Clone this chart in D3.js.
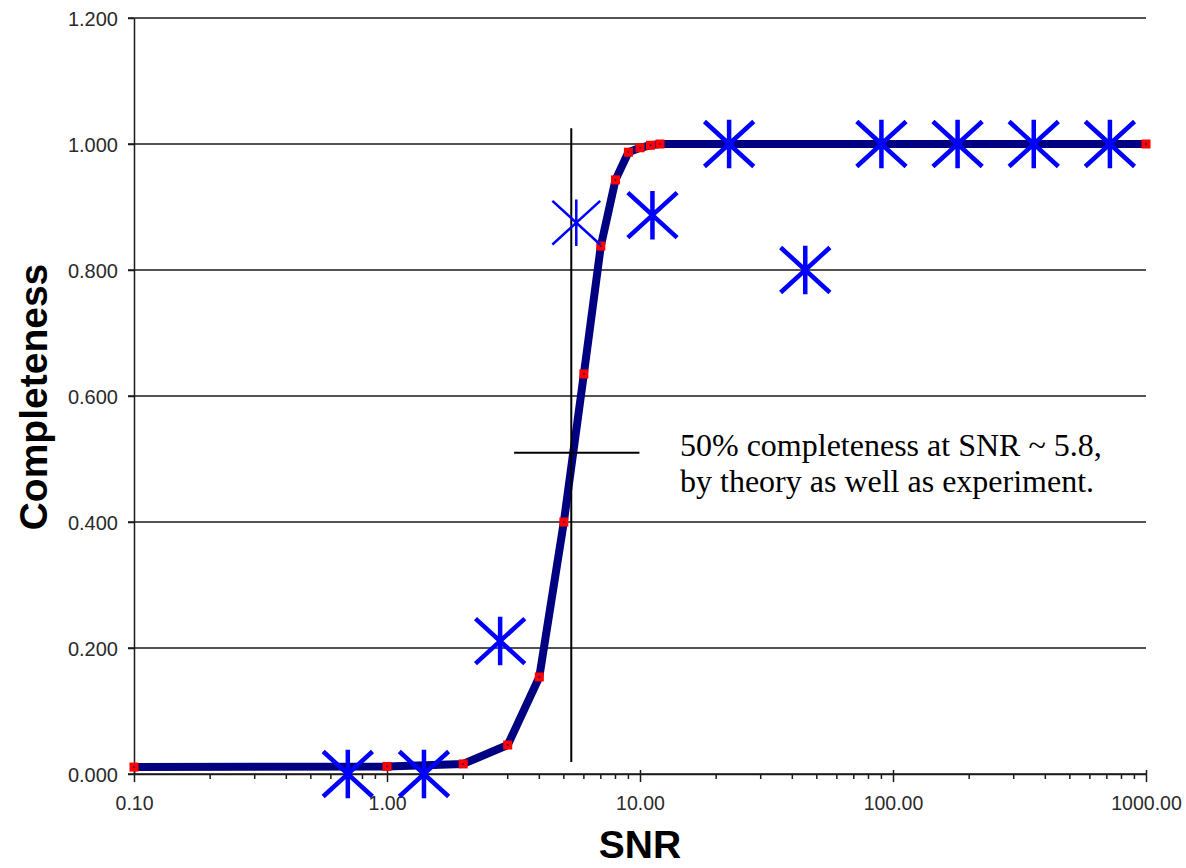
<!DOCTYPE html>
<html>
<head>
<meta charset="utf-8">
<script src="https://cdn.jsdelivr.net/npm/d3@7"></script>
<style>
  body { margin: 0; background: #fff; }
  svg { display: block; }
</style>
</head>
<body>
<svg id="chart" width="1186" height="868"></svg>
<script>
/* completeness vs SNR : theory curve + measured points */

// theory curve (red squares joined by navy line)
const curveSNR   = [0.1, 1, 2, 3, 4, 5, 6, 7, 8, 9, 10, 11, 12, 1000];
const curveComp  = [0.011, 0.012, 0.016, 0.046, 0.154, 0.400, 0.635, 0.838, 0.943, 0.987, 0.994, 0.998, 1.000, 1.000];

// experiment (blue asterisks)
const expSNR  = [0.7, 1.4, 2.8, 5.6, 11.2, 22.5, 45, 90, 180, 360, 720];
const expComp = [0.000, 0.000, 0.211, 0.875, 0.887, 1.000, 0.800, 1.000, 1.000, 1.000, 1.000];

// 50% marker : vertical and horizontal cross lines
const markV = [[5.35, 0.019], [5.35, 1.025]];
const markH = [[3.18, 0.51], [9.95, 0.51]];

const xTicks = [0.1, 1, 10, 100, 1000];
const yTicks = [0, 0.2, 0.4, 0.6, 0.8, 1.0, 1.2];
const noteLines = ["50% completeness at SNR ~ 5.8,", "by theory as well as experiment."];

let svg = d3.select("#chart");
let x = d3.scaleLog().domain([0.1, 1000]).range([134, 1146]),
    y = d3.scaleLinear().domain([0, 1.2]).range([774, 18]);

let labelFont = "'Liberation Sans', Arial, sans-serif";

/* gridlines, drawn under everything */
svg.append("g")
  .attr("class", "grid")
  .selectAll("line")
  .data(yTicks)
  .join("line")
  .attr("x1", 128)
  .attr("x2", x.range()[1])
  .attr("y1", d => y(d))
  .attr("y2", d => y(d))
  .attr("stroke", "#1a1a1a")
  .attr("stroke-width", 1.5);

/* y axis */
let yAxis = svg.append("g")
  .attr("transform", "translate(" + x.range()[0] + ",0)")
  .call(d3.axisLeft(y).tickValues(yTicks).tickFormat(d3.format(".3f")).tickSize(6).tickSizeOuter(0));
yAxis.select(".domain").attr("stroke", "#1a1a1a").attr("stroke-width", 1.5);
yAxis.selectAll(".tick line").attr("stroke", "#1a1a1a").attr("stroke-width", 1.5);
yAxis.selectAll(".tick text")
  .attr("x", -16)
  .attr("dy", "0.36em")
  .attr("fill", "#2a2a2a")
  .style("font", "20px " + labelFont);

/* x axis : decades labelled, minor ticks 2..9 */
let xAxis = svg.append("g")
  .attr("transform", "translate(0," + y(0) + ")")
  .call(d3.axisBottom(x).tickValues(xTicks).tickFormat(d3.format(".2f")).tickSizeOuter(0));
xAxis.select(".domain").attr("stroke", "#1a1a1a").attr("stroke-width", 1.5);
xAxis.selectAll(".tick line")
  .attr("y1", -4)
  .attr("y2", 8)
  .attr("stroke", "#1a1a1a")
  .attr("stroke-width", 1.5);
xAxis.selectAll(".tick text")
  .attr("y", 36)
  .attr("dy", 0)
  .attr("fill", "#2a2a2a")
  .style("font", "19.5px " + labelFont);

let minor = [];
xTicks.slice(0, -1).forEach(d => { for (let k = 2; k < 10; k++) minor.push(d * k); });
xAxis.append("g")
  .attr("class", "minor")
  .selectAll("line")
  .data(minor)
  .join("line")
  .attr("x1", d => x(d))
  .attr("x2", d => x(d))
  .attr("y1", 0)
  .attr("y2", 5)
  .attr("stroke", "#1a1a1a")
  .attr("stroke-width", 1.5);

/* theory curve */
let curve = curveSNR.map((s, i) => [s, curveComp[i]]);
svg.append("path")
  .datum(curve)
  .attr("fill", "none")
  .attr("stroke", "#000080")
  .attr("stroke-width", 8)
  .attr("stroke-linejoin", "round")
  .attr("d", d3.line().x(d => x(d[0])).y(d => y(d[1])));

let sq = svg.append("g").attr("class", "squares")
  .selectAll("g")
  .data(curve)
  .join("g")
  .attr("transform", d => "translate(" + x(d[0]) + "," + y(d[1]) + ")");
sq.append("rect")
  .attr("x", -4.5).attr("y", -4.5).attr("width", 9).attr("height", 9)
  .attr("fill", "#ff0000");
sq.append("rect")
  .attr("x", -0.75).attr("y", -0.75).attr("width", 1.5).attr("height", 1.5)
  .attr("fill", "#000080");

/* 50% marker lines (on top of curve) */
let lineXY = d3.line().x(d => x(d[0])).y(d => y(d[1]));
[markV, markH].forEach(m => {
  svg.append("path")
    .attr("d", lineXY(m))
    .attr("stroke", "#000")
    .attr("stroke-width", 2)
    .attr("fill", "none");
});

/* experiment : six-armed asterisks */
let exp = expSNR.map((s, i) => [s, expComp[i]]);
let star = "M0,-22V22M-23,-21L23,21M-23,21L23,-21";
svg.append("g").attr("class", "stars")
  .selectAll("path")
  .data(exp)
  .join("path")
  .attr("transform", d => "translate(" + x(d[0]) + "," + y(d[1]) + ")")
  .attr("d", star)
  .attr("fill", "none")
  .attr("stroke", "#0000ff")
  .attr("stroke-width", (d, i) => i === 3 ? 2.5 : 4.5)
  .attr("stroke-linecap", "square");

/* annotation */
svg.append("text")
  .attr("x", 680)
  .attr("y", 456)
  .attr("fill", "#000")
  .style("font", "32px 'Liberation Serif', 'Times New Roman', serif")
  .selectAll("tspan")
  .data(noteLines)
  .join("tspan")
  .attr("x", 680)
  .attr("dy", (d, i) => i ? 36 : 0)
  .text(d => d);

/* axis titles */
svg.append("text")
  .attr("transform", "translate(47,397) rotate(-90)")
  .attr("text-anchor", "middle")
  .attr("fill", "#000")
  .style("font", "bold 39px " + labelFont)
  .text("Completeness");

svg.append("text")
  .attr("x", 640)
  .attr("y", 858)
  .attr("text-anchor", "middle")
  .attr("fill", "#000")
  .style("font", "bold 39px " + labelFont)
  .text("SNR");
</script>
</body>
</html>
